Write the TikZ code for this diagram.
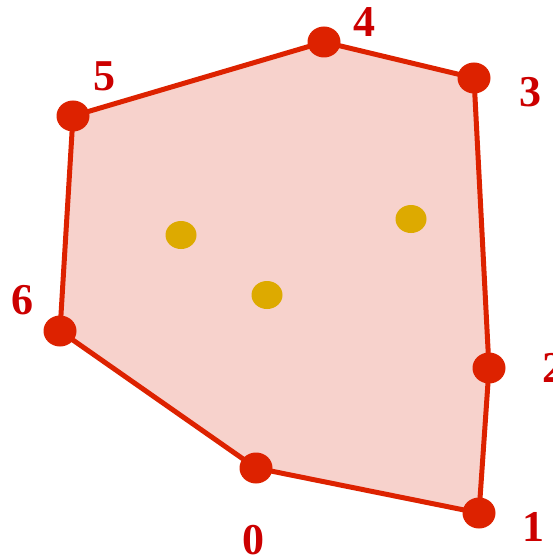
\documentclass[tikz,border=0pt]{standalone}
\usepackage{fontspec}
\setmainfont{Liberation Serif}
\definecolor{hullred}{HTML}{DD2200}
\definecolor{hullfill}{HTML}{F7D2CC}
\definecolor{ptyellow}{HTML}{DDAA00}
\definecolor{lblred}{HTML}{CC0000}
\tikzset{
  hullpt/.style={ellipse, fill=hullred, minimum width=33pt, minimum height=31pt, inner sep=0pt},
  inpt/.style={ellipse, fill=ptyellow, minimum width=31pt, minimum height=28pt, inner sep=0pt},
  lbl/.style={text=lblred, font=\fontsize{44}{44}\selectfont\bfseries, inner sep=0pt},
  edge/.style={draw=hullred, line width=5pt, line join=round}
}
\usetikzlibrary{shapes.geometric}
\begin{document}
\begin{tikzpicture}[x=1pt,y=-1pt]
\useasboundingbox (0,0) rectangle (552,559);
\coordinate (c0) at (256,468);
\coordinate (c1) at (479,513);
\coordinate (c2) at (489,368);
\coordinate (c3) at (474,78);
\coordinate (c4) at (324,42);
\coordinate (c5) at (73,116);
\coordinate (c6) at (60,331);
\fill[hullfill] (c0) -- (c1) -- (c2) -- (c3) -- (c4) -- (c5) -- (c6) -- cycle;
\draw[edge] (c0) -- (c1) -- (c2) -- (c3) -- (c4) -- (c5) -- (c6) -- cycle;
\foreach \i in {0,...,6} { \node[hullpt] (p\i) at (c\i) {}; }
\node[inpt] (y1) at (181,235) {};
\node[inpt] (y2) at (411,219) {};
\node[inpt] (y3) at (267,295) {};
\node[lbl] (l0) at (253,540) {0};
\node[lbl] (l1) at (533,527) {1};
\node[lbl] (l2) at (553,368) {2};
\node[lbl] (l3) at (530,92) {3};
\node[lbl] (l4) at (364,22) {4};
\node[lbl] (l5) at (104,76) {5};
\node[lbl] (l6) at (22,300) {6};
\end{tikzpicture}
\end{document}
